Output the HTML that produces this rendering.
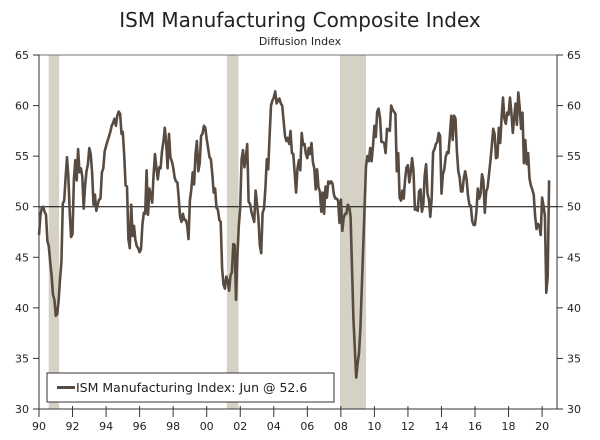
<!DOCTYPE html>
<html><head><meta charset="utf-8"><style>
body{margin:0;background:#fff;width:600px;height:440px;overflow:hidden;font-family:"Liberation Sans",Verdana,sans-serif}
svg{display:block}
text{font-family:"DejaVu Sans","Liberation Sans",sans-serif;fill:#222}
</style></head><body>
<svg id="chart" width="600" height="440" viewBox="0 0 600 440">
<text x="300" y="27" text-anchor="middle" font-size="20" style="font-family:'DejaVu Sans',sans-serif">ISM Manufacturing Composite Index</text>
<text x="300" y="45" text-anchor="middle" font-size="11">Diffusion Index</text>
<g id="plot"></g>
</svg>
<script>
const startYear = 1990;
const recessions = [[1990.58, 1991.2], [2001.2, 2001.9], [2007.95, 2009.5]];
const yTicks = [30, 35, 40, 45, 50, 55, 60, 65];
const xTickLabels = ["90","92","94","96","98","00","02","04","06","08","10","12","14","16","18","20"];
const ism1990s = [47.2,49.1,49.9,50.0,49.5,49.2,46.6,46.1,44.5,43.2,41.3,40.8,
 39.2,39.4,40.7,42.8,44.5,50.3,50.6,52.9,54.9,53.1,49.5,47.0,
 47.3,52.7,54.6,52.6,55.7,53.4,53.8,53.0,49.8,52.1,53.5,54.2,
 55.8,55.2,53.4,50.2,51.2,49.6,50.2,50.7,50.8,53.4,53.8,55.5,
 56.0,56.5,56.9,57.4,58.0,58.3,58.7,58.0,59.0,59.4,59.2,57.2,
 57.4,55.1,52.1,52.0,46.8,45.9,50.2,47.1,48.1,46.7,46.1,45.9,
 45.5,45.8,48.2,49.4,49.3,53.6,49.2,51.8,51.1,50.4,53.2,55.2,
 53.8,52.7,53.9,53.8,55.5,56.4,57.8,56.3,53.8,57.2,54.9,54.5,
 53.9,52.9,52.5,52.4,50.9,49.0,48.5,49.3,48.7,48.7,48.2,46.8,
 50.6,51.7,53.4,52.2,55.2,56.5,53.5,54.3,57.0,57.2,58.0,57.8];
const ism2000s = [56.7,55.8,54.9,54.7,53.2,51.4,51.8,49.9,49.7,48.7,48.5,43.9,
 42.3,41.9,43.1,42.7,41.7,43.2,43.5,46.3,46.2,40.8,45.1,48.1,
 49.9,54.7,55.6,53.9,54.8,56.2,50.5,50.3,49.5,49.0,48.5,51.6,
 50.3,48.9,46.2,45.4,49.4,49.8,51.8,54.7,53.7,57.0,60.0,60.5,
 60.8,61.4,60.2,60.5,60.7,60.2,60.0,58.5,57.0,56.5,56.8,56.2,
 57.5,55.3,55.2,53.3,51.4,53.8,54.6,53.6,57.3,56.1,56.2,55.2,
 54.8,55.8,55.2,56.3,54.4,53.8,51.7,53.7,51.9,51.5,49.5,51.4,
 49.3,52.0,50.9,52.5,52.3,52.5,52.3,51.2,50.8,50.8,50.6,48.4,
 50.7,47.6,48.9,49.3,49.3,50.2,50.0,49.0,44.0,39.0,36.0,33.1,
 34.5,35.5,38.0,42.0,46.0,50.0,54.0,55.0,54.5,55.8,54.5,56.0];
const ism2010s = [58.0,56.9,59.4,59.7,58.8,56.4,56.4,56.3,55.3,57.7,57.6,57.5,
 60.0,59.6,59.4,59.2,53.5,55.3,50.9,50.6,51.6,50.8,52.7,53.9,
 54.1,52.4,53.4,54.8,53.5,49.7,49.8,49.6,51.5,51.7,49.5,50.2,
 53.1,54.2,51.3,50.7,49.0,50.9,55.4,55.7,56.2,56.4,57.3,57.0,
 51.3,53.2,53.7,54.9,55.4,55.3,57.1,59.0,56.6,59.0,58.7,55.5,
 53.5,52.9,51.5,51.5,52.8,53.5,52.7,51.1,50.2,50.1,48.6,48.2,
 48.2,49.5,51.8,50.8,51.3,53.2,52.6,49.4,51.5,51.9,53.2,54.5,
 56.0,57.7,57.2,54.8,54.9,57.8,56.3,58.8,60.8,58.7,58.2,59.3,
 59.1,60.8,59.3,57.3,58.7,60.2,58.1,61.3,59.8,57.7,59.3,54.3,
 56.6,54.2,55.3,52.8,52.1,51.7,51.2,49.1,47.8,48.3,48.1,47.2];
const ism2020 = [50.9,50.1,49.1,41.5,43.1,52.6];
const values = ism1990s.concat(ism2000s, ism2010s, ism2020);

const L=39, R=557, T=55, B=409, pxPerYear=16.77;
const x = yr => L + (yr - startYear) * pxPerYear;
const y = v => B - (v - 30) * (B - T) / 35;
const NS='http://www.w3.org/2000/svg';
const g=document.getElementById('plot');
function mk(tag, attrs){const e=document.createElementNS(NS,tag);for(const k in attrs)e.setAttribute(k,attrs[k]);g.appendChild(e);return e;}

recessions.forEach(r=>{
  const e=mk('rect',{x:x(r[0]),y:T,width:x(r[1])-x(r[0]),height:B-T,fill:'#d5d1c4'});
  
  
});
let e=mk('line',{x1:L,y1:T,x2:R,y2:T,stroke:'#777','stroke-width':1});


e=mk('line',{x1:L,y1:T,x2:L,y2:B,stroke:'#333','stroke-width':1});


e=mk('line',{x1:R,y1:T,x2:R,y2:B,stroke:'#333','stroke-width':1});


e=mk('line',{x1:L,y1:B,x2:R,y2:B,stroke:'#333','stroke-width':1});


e=mk('line',{x1:L,y1:y(50),x2:R,y2:y(50),stroke:'#000','stroke-width':1});



yTicks.forEach(v=>{
  let t=mk('line',{x1:L-6,y1:y(v),x2:L,y2:y(v),stroke:'#333'});
  
  
  t=mk('line',{x1:R,y1:y(v),x2:R+6,y2:y(v),stroke:'#333'});
  
  
  let l=mk('text',{x:L-10,y:y(v)+4,'text-anchor':'end','font-size':11});
  l.textContent=v;
  
  
  l=mk('text',{x:R+10,y:y(v)+4,'font-size':11});
  l.textContent=v;
  
  
});
xTickLabels.forEach((s,i)=>{
  const xx=x(startYear+2*i);
  const t=mk('line',{x1:xx,y1:B-3,x2:xx,y2:B+8,stroke:'#333'});
  
  
  const l=mk('text',{x:xx,y:B+21,'text-anchor':'middle','font-size':11});
  l.textContent=s;
  
  
});

const pts=values.map((v,i)=>x(startYear+i/12).toFixed(1)+','+y(v).toFixed(1)).join(' ');
e=mk('polyline',{points:pts,fill:'none',stroke:'#584c42','stroke-width':2.6,'stroke-linejoin':'round'});



e=mk('rect',{x:47,y:373,width:287,height:29,fill:'#fff',stroke:'#333','stroke-width':1});


e=mk('line',{x1:57,y1:387.5,x2:75,y2:387.5,stroke:'#584c42','stroke-width':3});


e=mk('text',{x:76,y:392,'font-size':12.5});
e.textContent='ISM Manufacturing Index: Jun @ 52.6';


</script>
</body></html>
